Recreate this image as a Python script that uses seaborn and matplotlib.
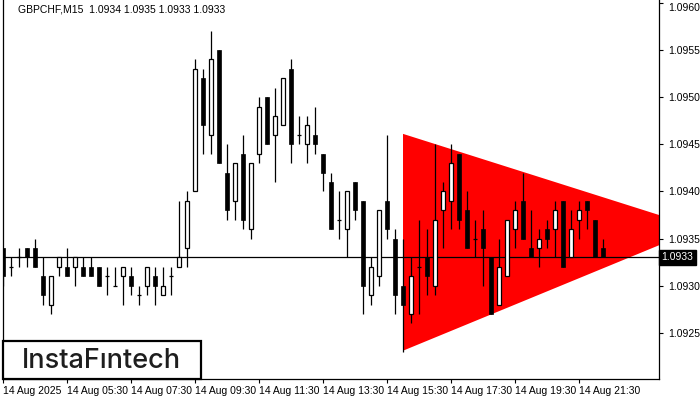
import matplotlib
matplotlib.use("Agg")
import matplotlib.pyplot as plt
import matplotlib.transforms as mtransforms
from matplotlib.patches import Rectangle, Polygon
import seaborn as sns
import numpy as np

# GBPCHF M15, 14 Aug 2025 -- one bar per 15 minutes starting 03:30
opens = [1.0934, 1.0932, 1.0933, 1.0934, 1.0934, 1.0931, 1.0928, 1.0932, 1.0932, 1.0932,
         1.0932, 1.0932, 1.0932, 1.0931, 1.0930, 1.0931, 1.0931, 1.0929, 1.0930, 1.0931,
         1.0929, 1.0931, 1.0932, 1.0934, 1.0940, 1.0952, 1.0946, 1.0955, 1.0942, 1.0939,
         1.0944, 1.0936, 1.0944, 1.0950, 1.0946, 1.0947, 1.0953, 1.0946, 1.0945, 1.0946,
         1.0944, 1.0941, 1.0937, 1.0936, 1.0941, 1.0939, 1.0929, 1.0931, 1.0939, 1.0935,
         1.0930, 1.0927, 1.0932, 1.0933, 1.0930, 1.0938, 1.0939, 1.0944, 1.0938, 1.0935,
         1.0936, 1.0933, 1.0928, 1.0931, 1.0936, 1.0939, 1.0934, 1.0934, 1.0936, 1.0936,
         1.0939, 1.0933, 1.0937, 1.0939, 1.0937, 1.0934]
highs = [1.0934, 1.0933, 1.0934, 1.0934, 1.0935, 1.0933, 1.0931, 1.0933, 1.0934, 1.0933,
         1.0933, 1.0933, 1.0932, 1.0932, 1.0932, 1.0932, 1.0932, 1.0930, 1.0932, 1.0932,
         1.0932, 1.0932, 1.0939, 1.0940, 1.0954, 1.0953, 1.0957, 1.0955, 1.0945, 1.0943,
         1.0946, 1.0943, 1.0950, 1.0950, 1.0951, 1.0952, 1.0954, 1.0948, 1.0948, 1.0949,
         1.0944, 1.0942, 1.0940, 1.0940, 1.0941, 1.0939, 1.0933, 1.0938, 1.0946, 1.0936,
         1.0935, 1.0933, 1.0937, 1.0936, 1.0945, 1.0941, 1.0945, 1.0944, 1.0940, 1.0937,
         1.0938, 1.0933, 1.0935, 1.0937, 1.0939, 1.0942, 1.0938, 1.0936, 1.0937, 1.0939,
         1.0939, 1.0938, 1.0939, 1.0939, 1.0937, 1.0935]
lows = [1.0930, 1.0931, 1.0932, 1.0932, 1.0932, 1.0928, 1.0927, 1.0931, 1.0931, 1.0930,
        1.0931, 1.0931, 1.0930, 1.0929, 1.0930, 1.0928, 1.0929, 1.0928, 1.0929, 1.0928,
        1.0929, 1.0929, 1.0932, 1.0932, 1.0940, 1.0944, 1.0944, 1.0943, 1.0937, 1.0937,
        1.0936, 1.0935, 1.0943, 1.0945, 1.0941, 1.0947, 1.0943, 1.0945, 1.0943, 1.0944,
        1.0940, 1.0936, 1.0935, 1.0933, 1.0937, 1.0927, 1.0928, 1.0930, 1.0935, 1.0927,
        1.0923, 1.0926, 1.0927, 1.0929, 1.0929, 1.0934, 1.0936, 1.0936, 1.0934, 1.0933,
        1.0930, 1.0927, 1.0928, 1.0931, 1.0934, 1.0935, 1.0933, 1.0932, 1.0934, 1.0933,
        1.0932, 1.0933, 1.0935, 1.0936, 1.0933, 1.0933]
closes = [1.0931, 1.0932, 1.0933, 1.0933, 1.0932, 1.0929, 1.0931, 1.0933, 1.0931, 1.0933,
          1.0931, 1.0931, 1.0930, 1.0931, 1.0930, 1.0932, 1.0930, 1.0929, 1.0932, 1.0930,
          1.0930, 1.0931, 1.0933, 1.0939, 1.0953, 1.0947, 1.0954, 1.0943, 1.0938, 1.0943,
          1.0937, 1.0943, 1.0949, 1.0945, 1.0948, 1.0952, 1.0945, 1.0946, 1.0947, 1.0945,
          1.0942, 1.0936, 1.0937, 1.0940, 1.0938, 1.0930, 1.0932, 1.0938, 1.0936, 1.0929,
          1.0928, 1.0931, 1.0932, 1.0931, 1.0937, 1.0940, 1.0943, 1.0937, 1.0934, 1.0935,
          1.0934, 1.0927, 1.0932, 1.0937, 1.0938, 1.0935, 1.0933, 1.0935, 1.0935, 1.0938,
          1.0932, 1.0936, 1.0938, 1.0938, 1.0933, 1.0933]

time_bars = [0, 8, 16, 24, 32, 40, 48, 56, 64, 72]
time_labels = ["14 Aug 2025", "14 Aug 05:30", "14 Aug 07:30", "14 Aug 09:30", "14 Aug 11:30",
               "14 Aug 13:30", "14 Aug 15:30", "14 Aug 17:30", "14 Aug 19:30", "14 Aug 21:30"]
price_ticks = [1.0925, 1.0930, 1.0935, 1.0940, 1.0945, 1.0950, 1.0955, 1.0960]

# symmetrical triangle pattern (bar index, price)
tri_bars = [50, 50, 87.2]
tri_prices = [1.09461, 1.09231, 1.09361]

last_price = 1.0933
title = "GBPCHF,M15  1.0934 1.0935 1.0933 1.0933"

sns.set_theme(style="white")
plt.rcParams["font.family"] = ["Liberation Sans", "DejaVu Sans"]
small = 7.5

fig = plt.figure(figsize=(7, 4), dpi=100)
ax = fig.add_axes([0.0039, 0.0525, 0.9375, 0.9475])

o = np.array(opens)
h = np.array(highs)
l = np.array(lows)
c = np.array(closes)
x = np.arange(len(o))

# pattern
ax.add_patch(Polygon(np.column_stack([tri_bars, tri_prices]), closed=True,
                     facecolor="#ff0000", edgecolor="none", zorder=1))
ax.axhline(last_price, color="black", lw=0.9, zorder=2)

# candles
w = 0.6
ax.vlines(x, l, h, color="black", lw=0.9, zorder=3)
doji = o == c
bull = (c > o)
bear = (c < o)
ax.bar(x[bear], (o - c)[bear], bottom=c[bear], width=w, color="black",
       edgecolor="black", lw=0.5, zorder=4)
ax.bar(x[bull], (c - o)[bull], bottom=o[bull], width=w, facecolor="white",
       edgecolor="black", lw=0.9, zorder=4)
ax.hlines(o[doji], x[doji] - w / 2, x[doji] + w / 2, color="black", lw=0.9, zorder=4)

ax.set_xlim(-0.04, 82)
ax.set_ylim(1.09201, 1.09603)

ax.yaxis.tick_right()
ax.set_yticks(price_ticks)
ax.set_yticklabels([f"{p:.4f}" for p in price_ticks])
ax.set_xticks(time_bars)
ax.set_xticklabels(time_labels, ha="left")
ax.tick_params(axis="both", direction="out", length=3, width=0.8, color="black",
               labelsize=small, labelcolor="black", pad=2)
ax.tick_params(axis="y", pad=4)
ax.tick_params(axis="y", which="both", left=False, right=True)
ax.tick_params(axis="x", which="both", bottom=True, top=False)
ax.get_yticklabels()[-1].set_va("top")

for side in ["left", "right", "bottom"]:
    ax.spines[side].set_color("black")
    ax.spines[side].set_linewidth(0.9)
ax.spines["top"].set_visible(False)
ax.grid(False)

# current price tag
trans = mtransforms.blended_transform_factory(ax.transAxes, ax.transData)
ax.text(1.004, last_price, f"{last_price:.4f}", transform=trans, color="white",
        fontsize=small, va="center", ha="left", clip_on=False, zorder=10,
        bbox=dict(boxstyle="square,pad=0.25", facecolor="black", edgecolor="black"))

fig.text(18 / 700, 1 - 10 / 400, title, fontsize=small, color="black", va="center", ha="left")

# logo
ax.add_patch(Rectangle((0, 0), 0.302, 0.1003, transform=ax.transAxes, facecolor="white",
                       edgecolor="black", lw=1.6, zorder=8, clip_on=False))
ax.text(0.151, 0.028, "InstaFıntech", transform=ax.transAxes, fontsize=19.5,
        family=["Inter", "DejaVu Sans"], weight="medium", color="#1e1e1e",
        ha="center", va="baseline", zorder=9)

fig.savefig("out.png", dpi=100)
